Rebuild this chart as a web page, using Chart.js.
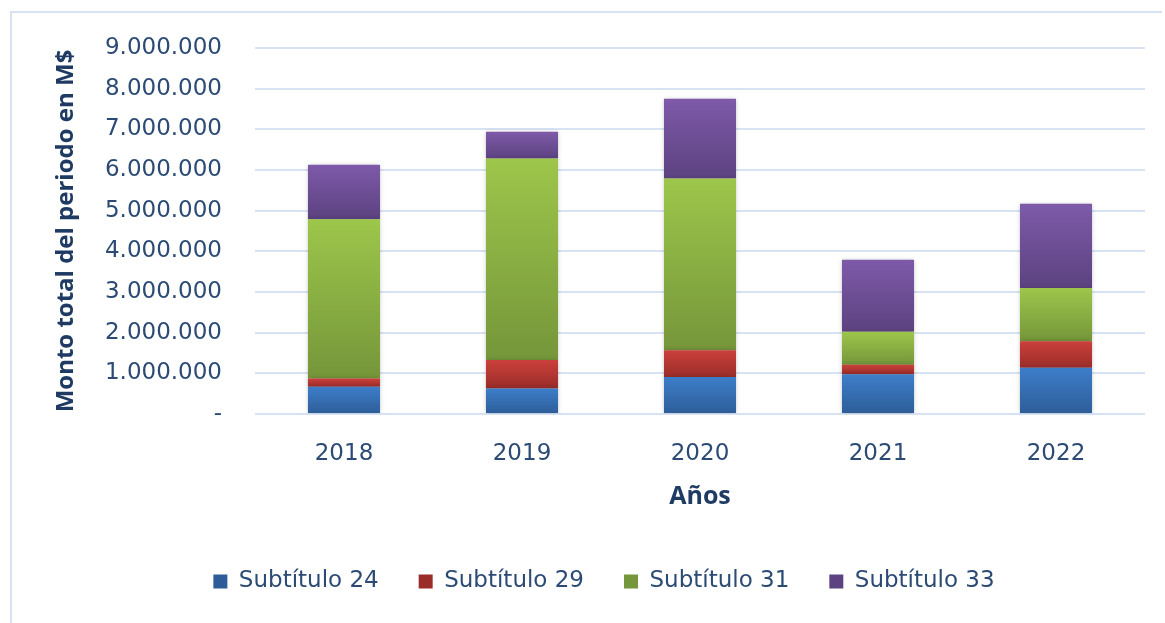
<!DOCTYPE html>
<html lang="es">
<head>
<meta charset="utf-8">
<title>Monto total por subtítulo</title>
<script src="https://cdn.jsdelivr.net/npm/chart.js@4.4.1/dist/chart.umd.min.js"></script>
<style>
    html, body { margin: 0; padding: 0; background: #fff; overflow: hidden; }
    #frame {
        position: absolute;
        left: 10px;
        top: 11px;
        width: 1150px;
        height: 610px;
        border-top: 2px solid #d7e3f3;
        border-left: 2px solid #d7e3f3;
    }
    #wrap { position: absolute; left: 0; top: 0; width: 1165px; height: 623px; }
</style>
</head>
<body>
<div id="frame"></div>
<div id="wrap"><canvas id="montoChart" width="1165" height="623"></canvas></div>
<script>
// Montos por año (M$)
const years = ['2018', '2019', '2020', '2021', '2022'];
const seriesNames = ['Subtítulo 24', 'Subtítulo 29', 'Subtítulo 31', 'Subtítulo 33'];
const sub24 = [670000, 630000, 910000, 980000, 1140000];
const sub29 = [200000, 700000, 660000, 230000, 650000];
const sub31 = [3920000, 4950000, 4220000, 810000, 1310000];
const sub33 = [1340000, 660000, 1960000, 1770000, 2070000];
const yTicks = [0, 1000000, 2000000, 3000000, 4000000, 5000000, 6000000, 7000000, 8000000, 9000000];

const allSeries = [sub24, sub29, sub31, sub33];

// light (top) / dark (bottom) tone of each segment
const topColors = ['#3d7ec9', '#cb403b', '#9dc64b', '#7e5aa9'];
const bottomColors = ['#2d5d98', '#9b2d29', '#75963a', '#5c4280'];
const legendColors = ['#3a74bb', '#c0392f', '#93b947', '#7352a0'];

const textColor = '#2c4b74';
const titleColor = '#1f3b63';
const gridColor = '#d7e3f3';

function formatMonto(v) {
    if (v === 0) return '-';
    return String(v).replace(/\B(?=(\d{3})+(?!\d))/g, '.');
}

function segmentFill(context) {
    const i = context.datasetIndex;
    if (context.type !== 'data') return legendColors[i];
    const chart = context.chart;
    const yScale = chart.scales.y;
    if (!chart.chartArea || !yScale) return legendColors[i];
    let start = 0;
    for (let k = 0; k < i; k++) start += allSeries[k][context.dataIndex];
    const end = start + allSeries[i][context.dataIndex];
    const yTop = yScale.getPixelForValue(end);
    const yBottom = yScale.getPixelForValue(start);
    if (!isFinite(yTop) || !isFinite(yBottom) || yTop === yBottom) return legendColors[i];
    const g = chart.ctx.createLinearGradient(0, yTop, 0, yBottom);
    g.addColorStop(0, topColors[i]);
    g.addColorStop(1, bottomColors[i]);
    return g;
}

// soft drop shadow around the stacked bars
const barShadow = {
    id: 'barShadow',
    beforeDatasetsDraw(chart) {
        const ctx = chart.ctx;
        ctx.save();
        ctx.shadowColor = 'rgba(0,0,0,0.22)';
        ctx.shadowBlur = 5;
        ctx.shadowOffsetX = 0;
        ctx.shadowOffsetY = 0;
    },
    afterDatasetsDraw(chart) {
        chart.ctx.restore();
    }
};

// nudge the legend row a little to the right
const legendNudge = {
    id: 'legendNudge',
    afterLayout(chart) {
        if (chart.legend) chart.legend.left += 18;
    }
};

const datasets = allSeries.map((values, i) => ({
    label: seriesNames[i],
    data: values,
    backgroundColor: segmentFill,
    borderWidth: 0,
    barPercentage: 1,
    categoryPercentage: 0.405
}));

new Chart(document.getElementById('montoChart').getContext('2d'), {
    type: 'bar',
    data: { labels: years, datasets: datasets },
    plugins: [barShadow, legendNudge],
    options: {
        responsive: false,
        animation: false,
        layout: { padding: { left: 45, right: 20, top: 48, bottom: 20 } },
        plugins: {
            tooltip: { enabled: false },
            legend: {
                position: 'bottom',
                labels: {
                    boxWidth: 14,
                    boxHeight: 14,
                    padding: 40,
                    color: textColor,
                    font: { family: 'DejaVu Sans', size: 23 }
                }
            }
        },
        scales: {
            x: {
                stacked: true,
                grid: { display: false, drawTicks: false },
                border: { display: false },
                ticks: {
                    color: textColor,
                    padding: 26,
                    font: { family: 'DejaVu Sans', size: 23 }
                },
                title: {
                    display: true,
                    text: 'Años',
                    color: titleColor,
                    padding: { top: 0, bottom: 18 },
                    font: { family: 'Open Sans', size: 25, weight: 'bold' }
                },
                afterFit(scale) { scale.height = 116; }
            },
            y: {
                stacked: true,
                min: 0,
                max: 9000000,
                afterBuildTicks(scale) {
                    scale.ticks = yTicks.map(v => ({ value: v }));
                },
                grid: { color: gridColor, lineWidth: 2, drawTicks: false },
                border: { display: false },
                ticks: {
                    color: textColor,
                    padding: 33,
                    font: { family: 'DejaVu Sans', size: 23 },
                    callback: v => formatMonto(v)
                },
                title: {
                    display: true,
                    text: 'Monto total del periodo en M$',
                    color: titleColor,
                    padding: { top: 7, bottom: 0 },
                    font: { family: 'Open Sans', size: 24, weight: 'bold' }
                },
                afterFit(scale) { scale.width = 210; }
            }
        }
    }
});
</script>
</body>
</html>
